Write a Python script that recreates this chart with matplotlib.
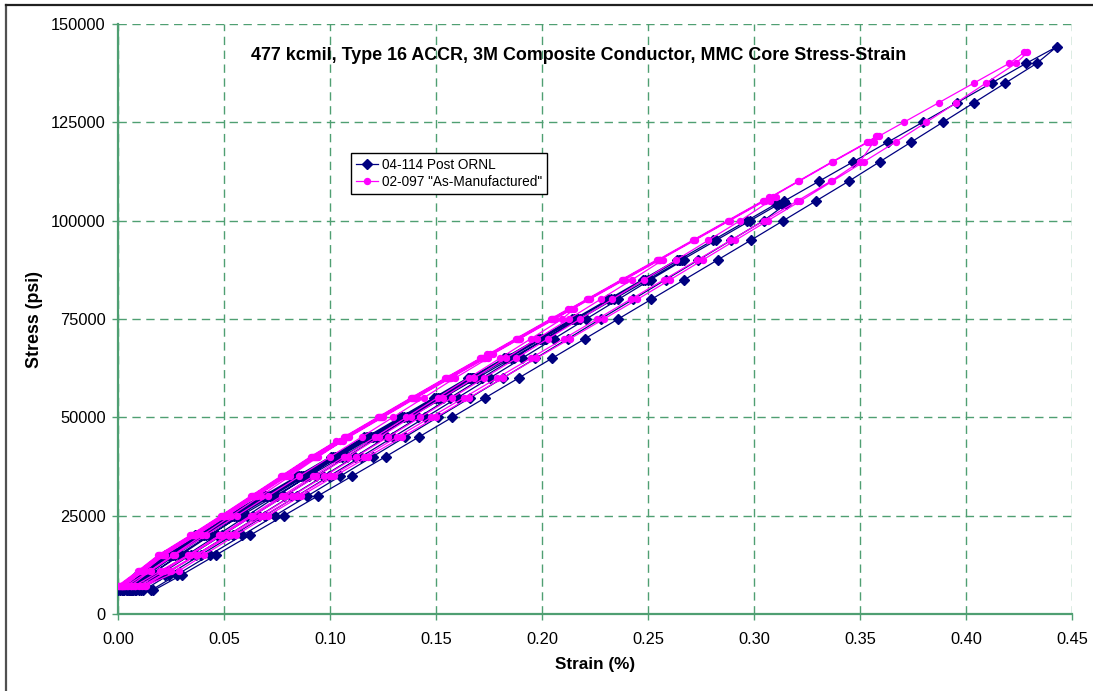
import matplotlib
matplotlib.use("Agg")
import matplotlib.pyplot as plt
from matplotlib.lines import Line2D

plt.rcParams['font.family'] = ['Liberation Sans', 'DejaVu Sans']

# ========== data ==========
# stress steps (psi) used when logging each load / unload ramp
navy_levels = [6000, 10000, 15000, 20000, 25000, 30000, 35000, 40000, 45000, 50000,
               55000, 60000, 65000, 70000, 75000, 80000, 85000, 90000, 95000, 100000,
               105000, 110000, 115000, 120000, 125000, 130000, 135000, 140000]
magenta_levels = [7200, 11000, 15000, 20000, 25000, 30000, 35000, 40000, 45000, 50000,
                  55000, 60000, 65000, 70000, 75000, 80000, 85000, 90000, 95000, 100000,
                  105000, 110000, 115000, 120000, 125000, 130000, 135000, 140000]

# 04-114 Post ORNL  (strain %, one list per cycle)
navy_peak = [30000, 45000, 60000, 75000, 90000, 104200, 144200]
navy_up = [
    [0.000, 0.0089, 0.0221, 0.0364, 0.0516],
    [0.001, 0.0099, 0.0231, 0.0374, 0.0526, 0.0685, 0.0844, 0.1003],
    [0.002, 0.0109, 0.0241, 0.0384, 0.0536, 0.0695, 0.0854, 0.1013, 0.1172, 0.1331, 0.1490],
    [0.003, 0.0119, 0.0251, 0.0394, 0.0546, 0.0705, 0.0864, 0.1023, 0.1182, 0.1341, 0.1500,
     0.1659, 0.1820, 0.1981],
    [0.004, 0.0129, 0.0261, 0.0404, 0.0556, 0.0715, 0.0874, 0.1033, 0.1192, 0.1351, 0.1510,
     0.1669, 0.1830, 0.1991, 0.2152, 0.2313, 0.2474],
    [0.005, 0.0139, 0.0271, 0.0414, 0.0566, 0.0725, 0.0884, 0.1043, 0.1202, 0.1361, 0.1520,
     0.1679, 0.1840, 0.2001, 0.2162, 0.2323, 0.2484, 0.2645, 0.2806, 0.2967],
    [0.0065, 0.0154, 0.0286, 0.0429, 0.0581, 0.0740, 0.0899, 0.1058, 0.1217, 0.1376, 0.1535,
     0.1694, 0.1855, 0.2016, 0.2177, 0.2338, 0.2499, 0.2660, 0.2821, 0.2982, 0.3143, 0.3306,
     0.3469, 0.3632, 0.3795, 0.3958, 0.4121, 0.4284],
]
navy_hold = [
    [0.0675, 0.0685, 0.0695],
    [0.1162, 0.1175, 0.1185],
    [0.1649, 0.1662, 0.1675],
    [0.2142, 0.2157, 0.2172],
    [0.2635, 0.2652, 0.2668],
    [0.3102, 0.3115, 0.3130, 0.3150],
    [0.4428],
]
navy_down = [
    [0.0575, 0.0435, 0.0295, 0.0152, 0.0040],
    [0.1035, 0.0893, 0.0751, 0.0609, 0.0467, 0.0325, 0.0180, 0.0060],
    [0.1523, 0.1376, 0.1228, 0.1080, 0.0933, 0.0785, 0.0637, 0.0490, 0.0342, 0.0194, 0.0080],
    [0.2017, 0.1867, 0.1717, 0.1567, 0.1417, 0.1267, 0.1117, 0.0967, 0.0817, 0.0667, 0.0517,
     0.0367, 0.0220, 0.0100],
    [0.2512, 0.2360, 0.2209, 0.2057, 0.1905, 0.1754, 0.1602, 0.1450, 0.1299, 0.1147, 0.0995,
     0.0844, 0.0692, 0.0540, 0.0389, 0.0240, 0.0120],
    [0.3045, 0.2891, 0.2737, 0.2584, 0.2430, 0.2276, 0.2123, 0.1969, 0.1815, 0.1662, 0.1508,
     0.1354, 0.1201, 0.1047, 0.0893, 0.0740, 0.0586, 0.0432, 0.0278, 0.0155],
    [0.4334, 0.4186, 0.4038, 0.3890, 0.3742, 0.3594, 0.3446, 0.3292, 0.3138, 0.2984, 0.2828,
     0.2672, 0.2516, 0.2360, 0.2204, 0.2047, 0.1890, 0.1733, 0.1576, 0.1419, 0.1262, 0.1102,
     0.0942, 0.0782, 0.0622, 0.0462, 0.0302, 0.0167],
]
navy_dwell = [[0.0025], [0.0040], [0.0055], [0.0070], [0.0085], [0.0110], []]

# 02-097 "As-Manufactured"
magenta_peak = [44000, 66000, 77500, 90000, 106000, 121400, 142800]
magenta_up = [
    [0.000, 0.0095, 0.0190, 0.0340, 0.0485, 0.0626, 0.0767, 0.0908],
    [0.0005, 0.0100, 0.0195, 0.0345, 0.0490, 0.0631, 0.0772, 0.0913, 0.1065, 0.1224, 0.1383,
     0.1544, 0.1707],
    [0.001, 0.0105, 0.0200, 0.0350, 0.0495, 0.0636, 0.0777, 0.0918, 0.1070, 0.1229, 0.1388,
     0.1549, 0.1712, 0.1876, 0.2040],
    [0.0015, 0.0110, 0.0205, 0.0355, 0.0500, 0.0641, 0.0782, 0.0923, 0.1075, 0.1234, 0.1393,
     0.1554, 0.1717, 0.1881, 0.2045, 0.2210, 0.2375],
    [0.0020, 0.0115, 0.0210, 0.0360, 0.0505, 0.0646, 0.0787, 0.0928, 0.1080, 0.1239, 0.1398,
     0.1559, 0.1722, 0.1886, 0.2050, 0.2215, 0.2380, 0.2545, 0.2710, 0.2875, 0.3040],
    [0.0025, 0.0120, 0.0215, 0.0365, 0.0510, 0.0651, 0.0792, 0.0933, 0.1085, 0.1244, 0.1403,
     0.1564, 0.1727, 0.1891, 0.2055, 0.2220, 0.2385, 0.2550, 0.2715, 0.2880, 0.3045, 0.3207,
     0.3369, 0.3535],
    [0.0030, 0.0125, 0.0220, 0.0370, 0.0515, 0.0656, 0.0797, 0.0938, 0.1090, 0.1249, 0.1408,
     0.1569, 0.1732, 0.1896, 0.2060, 0.2225, 0.2390, 0.2555, 0.2720, 0.2885, 0.3050, 0.3212,
     0.3374, 0.3540, 0.3706, 0.3872, 0.4038, 0.4204],
]
magenta_hold = [
    [0.1030, 0.1045, 0.1060],
    [0.1740, 0.1755, 0.1770],
    [0.2122, 0.2135, 0.2150],
    [0.2540, 0.2555, 0.2570],
    [0.3073, 0.3088, 0.3102],
    [0.3575, 0.3582, 0.3590],
    [0.4275, 0.4290],
]
magenta_down = [
    [0.0945, 0.0810, 0.0673, 0.0535, 0.0397, 0.0260, 0.0150, 0.0040],
    [0.1745, 0.1590, 0.1443, 0.1296, 0.1149, 0.1002, 0.0855, 0.0708, 0.0561, 0.0414, 0.0267,
     0.0155, 0.0060],
    [0.2095, 0.1948, 0.1801, 0.1654, 0.1507, 0.1360, 0.1213, 0.1066, 0.0919, 0.0772, 0.0625,
     0.0478, 0.0331, 0.0200, 0.0080],
    [0.2425, 0.2276, 0.2127, 0.1978, 0.1829, 0.1680, 0.1531, 0.1382, 0.1233, 0.1084, 0.0935,
     0.0786, 0.0637, 0.0488, 0.0339, 0.0215, 0.0100],
    [0.3075, 0.2935, 0.2784, 0.2633, 0.2482, 0.2331, 0.2180, 0.2029, 0.1878, 0.1727, 0.1576,
     0.1425, 0.1274, 0.1123, 0.0972, 0.0821, 0.0670, 0.0519, 0.0368, 0.0240, 0.0115],
    [0.3565, 0.3500, 0.3361, 0.3204, 0.3047, 0.2889, 0.2732, 0.2575, 0.2418, 0.2260, 0.2103,
     0.1946, 0.1789, 0.1631, 0.1474, 0.1317, 0.1160, 0.1002, 0.0845, 0.0688, 0.0531, 0.0373,
     0.0248, 0.0125],
    [0.4236, 0.4095, 0.3955, 0.3812, 0.3668, 0.3519, 0.3369, 0.3219, 0.3065, 0.2910, 0.2758,
     0.2605, 0.2450, 0.2292, 0.2133, 0.1973, 0.1815, 0.1657, 0.1499, 0.1340, 0.1180, 0.1020,
     0.0862, 0.0707, 0.0555, 0.0405, 0.0288, 0.0130],
]
magenta_dwell = [[0.0020], [0.0035], [0.0048], [0.0060], [0.0070], [0.0078], []]

x_ticks = [0.00, 0.05, 0.10, 0.15, 0.20, 0.25, 0.30, 0.35, 0.40, 0.45]
y_ticks = [0, 25000, 50000, 75000, 100000, 125000, 150000]
# =============================

GRID = '#4f9f72'


def build_path(levels, peaks, ups, holds, downs, dwells):
    """Join every load ramp, hold, unload ramp and base dwell into one trace."""
    xs, ys = [], []
    for peak, up, hold, down, dwell in zip(peaks, ups, holds, downs, dwells):
        xs += up
        ys += levels[:len(up)]
        xs += hold
        ys += [peak] * len(hold)
        xs += down
        ys += levels[:len(down)][::-1]
        xs += dwell
        ys += [levels[0]] * len(dwell)
    return xs, ys


nx, ny = build_path(navy_levels, navy_peak, navy_up, navy_hold, navy_down, navy_dwell)
mx, my = build_path(magenta_levels, magenta_peak, magenta_up, magenta_hold, magenta_down,
                    magenta_dwell)

fig = plt.figure(figsize=(10.93, 6.91), dpi=100)
ax = fig.add_axes([0.1080, 0.1114, 0.8728, 0.8539])

ax.plot(nx, ny, color='#000080', lw=0.9, marker='D', ms=4.8, mec='#000080', mfc='#000080',
        label='04-114 Post ORNL', zorder=3)
ax.plot(mx, my, color='#FF00FF', lw=0.9, marker='o', ms=4.3, mec='#FF00FF', mfc='#FF00FF',
        label='02-097 "As-Manufactured"', zorder=3)

ax.set_xlim(0, 0.45)
ax.set_ylim(0, 150000)
ax.set_xticks(x_ticks)
ax.set_yticks(y_ticks)
ax.set_xticklabels([f"{v:.2f}" for v in x_ticks])
ax.set_yticklabels([str(v) for v in y_ticks])

ax.grid(True, color=GRID, linestyle=(0, (6, 4)), lw=1.0)
ax.set_axisbelow(True)
for side in ['top', 'right']:
    ax.spines[side].set_visible(False)
for side in ['left', 'bottom']:
    ax.spines[side].set_color(GRID)
    ax.spines[side].set_linewidth(1.6)
ax.tick_params(axis='both', colors=GRID, labelcolor='black', length=4, width=1.0,
               direction='out', labelsize=11.8)
ax.tick_params(axis='x', pad=9)
ax.tick_params(axis='y', pad=5)

ax.set_xlabel('Strain (%)', fontsize=12.3, fontweight='bold')
ax.set_ylabel('Stress (psi)', fontsize=12.8, fontweight='bold')
ax.xaxis.set_label_coords(0.5, -0.073)
ax.yaxis.set_label_coords(-0.079, 0.5)
ax.text(0.483, 0.947, '477 kcmil, Type 16 ACCR, 3M Composite Conductor, MMC Core Stress-Strain',
        transform=ax.transAxes, ha='center', va='center', fontsize=12.9, fontweight='bold')

leg = ax.legend(loc='upper left', bbox_to_anchor=(0.2442, 0.7814), borderaxespad=0,
                fancybox=False, framealpha=1, edgecolor='black', fontsize=9.8,
                handlelength=1.6, handletextpad=0.3, borderpad=0.35, labelspacing=0.25)
leg.get_frame().set_linewidth(1.0)

# chart border
fig.add_artist(Line2D([6 / 1093, 6 / 1093], [0, 1 - 4.5 / 691], transform=fig.transFigure,
                      color='#505050', lw=1.6))
fig.add_artist(Line2D([6 / 1093, 1], [1 - 4.5 / 691, 1 - 4.5 / 691], transform=fig.transFigure,
                      color='#202020', lw=1.6))

fig.savefig('out.png', dpi=100)
